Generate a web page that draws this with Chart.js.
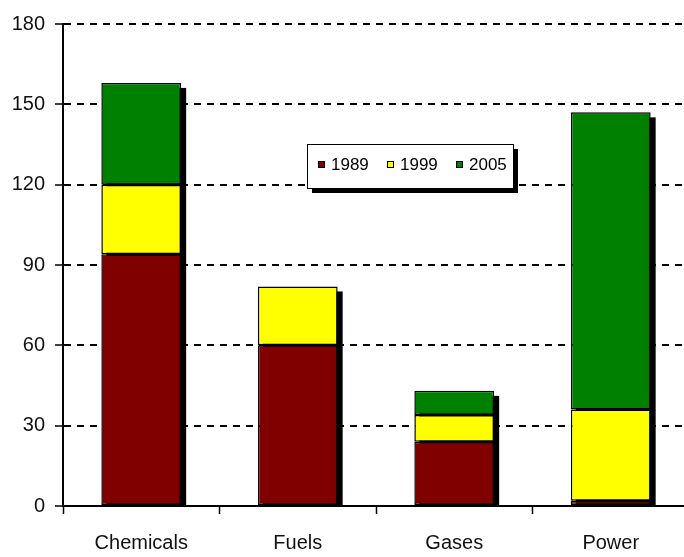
<!DOCTYPE html>
<html>
<head>
<meta charset="utf-8">
<script src="https://cdn.jsdelivr.net/npm/chart.js@4/dist/chart.umd.min.js"></script>
<style>
  html, body { margin: 0; padding: 0; background: #fff; overflow: hidden; }
  canvas { display: block; }
</style>
</head>
<body>
<canvas id="sectorChart" width="690" height="557"></canvas>
<script>
// categories and yearly values (stacked)
const categories = ['Chemicals', 'Fuels', 'Gases', 'Power'];
const years = ['1989', '1999', '2005'];
const values1989 = [94, 60, 24, 2];
const values1999 = [26, 22, 10, 34];
const values2005 = [38, 0, 9, 111];
const yTicks = [0, 30, 60, 90, 120, 150, 180];

const colors = ['#800000', '#ffff00', '#008000'];
const axisFont = '"Liberation Sans", Arial, sans-serif';

// black drop shadow behind each stacked bar
const barShadow = {
  id: 'barShadow',
  beforeDatasetsDraw(chart) {
    const ctx = chart.ctx;
    const metas = chart.data.datasets.map((d, i) => chart.getDatasetMeta(i));
    ctx.save();
    ctx.fillStyle = '#000';
    categories.forEach((c, idx) => {
      let top = Infinity, bar = null;
      metas.forEach((m, di) => {
        const el = m.data[idx];
        if (chart.data.datasets[di].data[idx] > 0 && el.y < top) {
          top = el.y;
          bar = el;
        }
      });
      if (!bar) return;
      const base = chart.scales.y.getPixelForValue(0);
      const w = bar.width;
      ctx.fillRect(bar.x - w / 2 + 5, top + 5, w, base - top - 5);
    });
    ctx.restore();
  }
};

// boxed legend floating in the plot, with shadow
const boxLegend = {
  id: 'boxLegend',
  afterDraw(chart) {
    const ctx = chart.ctx;
    const x = 307, y = 144, w = 206, h = 44;
    ctx.save();
    ctx.fillStyle = '#000';
    ctx.fillRect(x + 5, y + 5, w, h);
    ctx.fillStyle = '#fff';
    ctx.fillRect(x, y, w, h);
    ctx.strokeStyle = '#000';
    ctx.lineWidth = 1;
    ctx.strokeRect(x + 0.5, y + 0.5, w, h);
    ctx.font = '17px "Liberation Sans", Arial, sans-serif';
    ctx.textBaseline = 'middle';
    const offsets = [11, 80, 149];
    years.forEach((yr, i) => {
      const sx = x + offsets[i];
      ctx.fillStyle = colors[i];
      ctx.fillRect(sx, y + 17, 7, 7);
      ctx.strokeStyle = '#000';
      ctx.strokeRect(sx + 0.5, y + 17.5, 6, 6);
      ctx.fillStyle = '#000';
      ctx.fillText(yr, sx + 13, y + 21);
    });
    ctx.restore();
  }
};

const ctx = document.getElementById('sectorChart').getContext('2d');
new Chart(ctx, {
  type: 'bar',
  data: {
    labels: categories,
    datasets: [
      { label: years[0], data: values1989, backgroundColor: colors[0] },
      { label: years[1], data: values1999, backgroundColor: colors[1] },
      { label: years[2], data: values2005, backgroundColor: colors[2] }
    ].map(d => Object.assign(d, {
      borderColor: '#000',
      borderWidth: 1.5,
      borderSkipped: false,
      categoryPercentage: 1,
      barPercentage: 0.51
    }))
  },
  options: {
    responsive: false,
    animation: false,
    devicePixelRatio: 1,
    layout: { padding: { top: 24, right: 1, left: 0, bottom: 0 } },
    plugins: {
      legend: { display: false },
      tooltip: { enabled: false }
    },
    scales: {
      x: {
        stacked: true,
        grid: {
          display: true,
          drawOnChartArea: false,
          drawTicks: true,
          tickLength: 8,
          tickColor: '#000',
          tickWidth: 1.5,
          offset: true
        },
        border: { display: true, color: '#000', width: 2 },
        ticks: {
          color: '#111',
          padding: 17,
          font: { family: axisFont, size: 20 }
        },
        afterFit(scale) { scale.height = 51; }
      },
      y: {
        stacked: true,
        min: 0,
        max: 180,
        afterBuildTicks(scale) { scale.ticks = yTicks.map(v => ({ value: v })); },
        grid: {
          color: '#000',
          lineWidth: 2,
          tickLength: 8,
          tickColor: '#000',
          tickWidth: 1.5,
          tickBorderDash: []
        },
        border: { display: true, color: '#000', width: 2, dash: [7, 6] },
        ticks: {
          color: '#111',
          padding: 10,
          font: { family: axisFont, size: 20 }
        },
        afterFit(scale) { scale.width = 63; }
      }
    }
  },
  plugins: [barShadow, boxLegend]
});
</script>
</body>
</html>
